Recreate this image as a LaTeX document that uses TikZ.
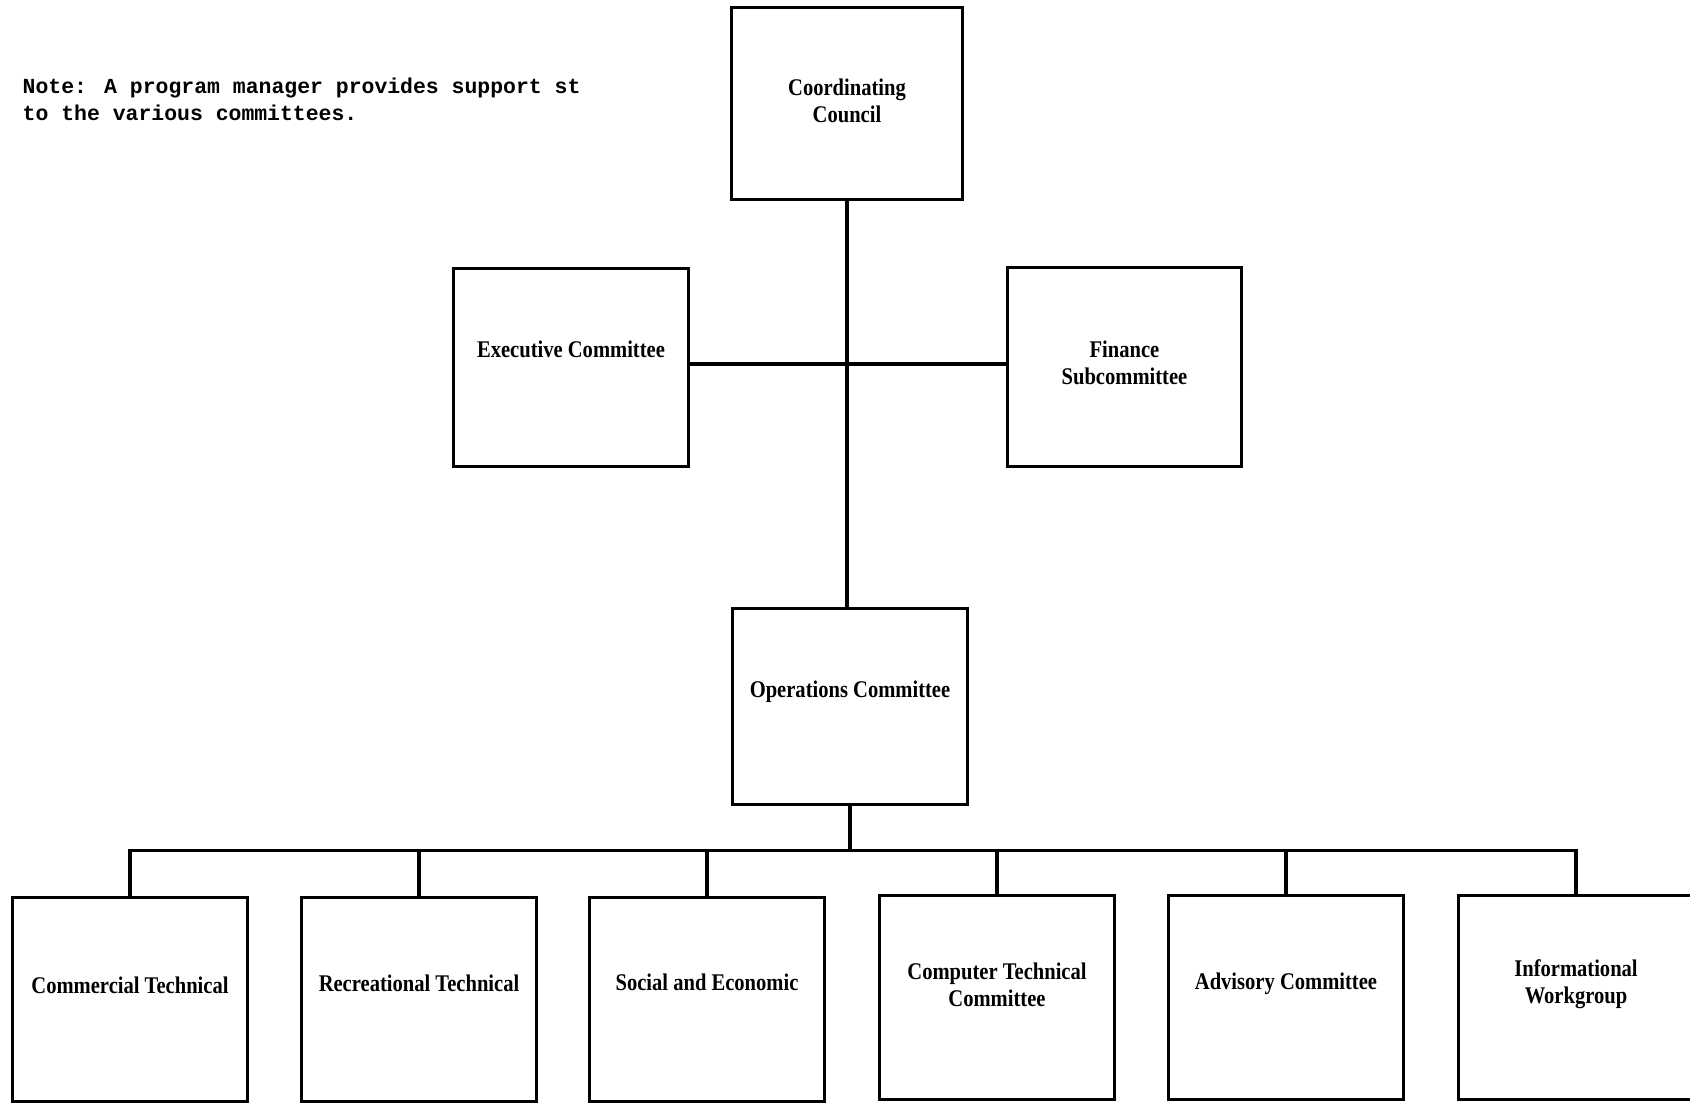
\documentclass[tikz,border=0pt]{standalone}
\usepackage{fontspec}
\usepackage{tikz}
\newfontfamily\boxfont[FakeStretch=0.86]{Liberation Serif}
\newfontfamily\notefont{Liberation Mono}
\usetikzlibrary{positioning}

\tikzset{
    orgbox/.style={draw, line width=0.85pt, inner sep=0pt, minimum width=2.34cm, minimum height=1.97cm},
    lowbox/.style={orgbox, minimum height=2.03cm},
    boxtext/.style={font=\boxfont\bfseries\fontsize{6.8pt}{7.7pt}\selectfont, align=center, inner sep=0pt},
    link/.style={line width=0.9pt}
}

\begin{document}
\begin{tikzpicture}[x=0.01cm, y=-0.01cm]
    \useasboundingbox (0,0) rectangle (1690,1104);
    \clip (0,0) rectangle (1690,1104);

    % Note
    \node[anchor=north west, align=left, inner sep=0pt,
          font=\notefont\bfseries\fontsize{6.1pt}{7.7pt}\selectfont] (note) at (22,77)
        {Note: A program manager provides support st\\to the various committees.};

    % Top level
    \node[orgbox, minimum width=2.30cm, minimum height=1.91cm] (council) at (847,103.5) {};
    \node[boxtext, yshift=0.03cm] (councilt) at (council) {Coordinating\\Council};

    \node[orgbox] (exec) at (571,367.5) {};
    \node[boxtext, yshift=0.18cm] (exect) at (exec) {Executive Committee};

    \node[orgbox, minimum width=2.33cm, minimum height=1.98cm] (fin) at (1124.5,367) {};
    \node[boxtext, yshift=0.045cm] (fint) at (fin) {Finance\\Subcommittee};

    \node[orgbox, minimum height=1.95cm] (ops) at (850,706.5) {};
    \node[boxtext, yshift=0.15cm] (opst) at (ops) {Operations Committee};

    % Committees
    \node[lowbox] (comm) at (130,999.5) {};
    \node[boxtext, yshift=0.14cm] (commt) at (comm) {Commercial Technical};

    \node[lowbox] (recr) at (419,999.5) {};
    \node[boxtext, yshift=0.16cm] (recrt) at (recr) {Recreational Technical};

    \node[lowbox] (soc) at (707,999.5) {};
    \node[boxtext, yshift=0.17cm] (soct) at (soc) {Social and Economic};

    \node[lowbox] (comp) at (997,997.5) {};
    \node[boxtext, yshift=0.13cm] (compt) at (comp) {Computer Technical\\Committee};

    \node[lowbox] (adv) at (1286,997.5) {};
    \node[boxtext, yshift=0.14cm] (advt) at (adv) {Advisory Committee};

    \node[lowbox] (info) at (1576,997.5) {};
    \node[boxtext, yshift=0.13cm] (infot) at (info) {Informational\\Workgroup};

    % Connectors
    \draw[link] (council.south) -- (council.south |- ops.north);
    \coordinate (mid) at (847,364);
    \draw[link] (exec.east |- mid) -- (fin.west |- mid);
    \coordinate (bar) at ([yshift=-0.45cm]ops.south);
    \draw[link] (ops.south) -- (bar);
    \foreach \n in {comm,recr,soc,comp,adv,info}
        \draw[link] (\n.north) |- (bar);
\end{tikzpicture}
\end{document}
